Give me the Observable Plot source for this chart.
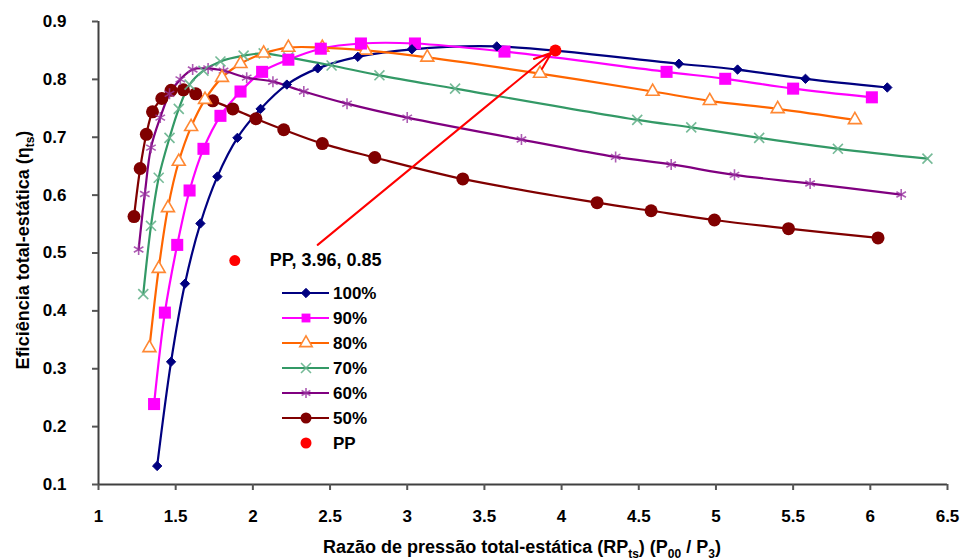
<!DOCTYPE html>
<html><head><meta charset="utf-8">
<script src="https://cdn.jsdelivr.net/npm/d3@7"></script>
<script src="https://cdn.jsdelivr.net/npm/@observablehq/plot@0.6"></script>
<style>
body{margin:0;background:#fff}
#chart{position:relative;width:969px;height:560px}
</style>
</head><body><div id="chart"></div>
<script>
// ---- data ----
const seriesNames = ["100%", "90%", "80%", "70%", "60%", "50%"];

const rp100  = [1.38, 1.47, 1.56, 1.66, 1.77, 1.90, 2.05, 2.22, 2.42, 2.68, 3.03, 3.58, 4.76, 5.14, 5.58, 6.11];
const eta100 = [0.132, 0.312, 0.447, 0.551, 0.632, 0.699, 0.749, 0.791, 0.819, 0.839, 0.852, 0.857, 0.827, 0.817, 0.801, 0.786];

const rp90  = [1.36, 1.43, 1.51, 1.59, 1.68, 1.79, 1.92, 2.06, 2.23, 2.44, 2.70, 3.05, 3.63, 4.68, 5.06, 5.50, 6.01];
const eta90 = [0.239, 0.397, 0.514, 0.608, 0.680, 0.737, 0.779, 0.813, 0.834, 0.853, 0.862, 0.862, 0.848, 0.813, 0.801, 0.784, 0.769];

const rp80  = [1.33, 1.39, 1.45, 1.52, 1.60, 1.69, 1.80, 1.92, 2.07, 2.23, 2.45, 2.73, 3.13, 3.86, 4.59, 4.96, 5.40, 5.90];
const eta80 = [0.336, 0.473, 0.578, 0.658, 0.718, 0.765, 0.803, 0.827, 0.845, 0.855, 0.855, 0.850, 0.838, 0.810, 0.779, 0.763, 0.749, 0.730];

const rp70  = [1.29, 1.34, 1.39, 1.46, 1.52, 1.59, 1.68, 1.79, 1.94, 2.07, 2.23, 2.51, 2.82, 3.31, 4.49, 4.84, 5.28, 5.79, 6.37];
const eta70 = [0.429, 0.547, 0.630, 0.699, 0.749, 0.791, 0.815, 0.831, 0.841, 0.845, 0.838, 0.824, 0.807, 0.784, 0.730, 0.717, 0.699, 0.680, 0.663];

const rp60  = [1.26, 1.30, 1.34, 1.40, 1.46, 1.53, 1.61, 1.71, 1.81, 1.96, 2.13, 2.33, 2.61, 3.00, 3.74, 4.35, 4.71, 5.12, 5.61, 6.20];
const eta60 = [0.506, 0.602, 0.682, 0.734, 0.775, 0.800, 0.817, 0.819, 0.815, 0.803, 0.796, 0.779, 0.758, 0.734, 0.696, 0.666, 0.653, 0.635, 0.620, 0.601];

const rp50  = [1.23, 1.27, 1.31, 1.35, 1.41, 1.47, 1.55, 1.63, 1.74, 1.87, 2.02, 2.20, 2.45, 2.79, 3.36, 4.23, 4.58, 4.99, 5.47, 6.05];
const eta50 = [0.563, 0.646, 0.705, 0.744, 0.767, 0.781, 0.782, 0.775, 0.763, 0.749, 0.732, 0.713, 0.689, 0.665, 0.628, 0.587, 0.573, 0.557, 0.542, 0.526];

const ppPoint = {rp: 3.96, eta: 0.85};
const ppLabel = "PP, 3.96, 0.85";
const arrowStart = {rp: 2.42, eta: 0.514};
const arrowEnd = {rp: 3.935, eta: 0.846};
const labelKeyPos = {rp: 1.883, eta: 0.487};
const labelTextPos = {rp: 2.11, eta: 0.487};

const xTicks = [1, 1.5, 2, 2.5, 3, 3.5, 4, 4.5, 5, 5.5, 6, 6.5];
const yTicks = [0.1, 0.2, 0.3, 0.4, 0.5, 0.6, 0.7, 0.8, 0.9];

// ---- styles ----
const styles = [
  {line: "#000080", symbol: "diamond2", r: 4.2, fill: "#000080", stroke: "#000080", sw: 1, so: 1},
  {line: "#FF00FF", symbol: "square", r: 6.8, fill: "#FF00FF", stroke: "#FF00FF", sw: 0, so: 1},
  {line: "#FF6600", symbol: "triangle", r: 4.8, fill: "#ffffff", stroke: "#FF8833", sw: 1.6, so: 1},
  {line: "#339966", symbol: "times", r: 4.6, fill: "none", stroke: "#66b38c", sw: 1.6, so: 0.9},
  {line: "#800080", symbol: "asterisk", r: 5.2, fill: "none", stroke: "#9933a0", sw: 1.6, so: 0.8},
  {line: "#800000", symbol: "circle", r: 6.5, fill: "#800000", stroke: "#800000", sw: 0, so: 1}
];
const xs = [rp100, rp90, rp80, rp70, rp60, rp50];
const ys = [eta100, eta90, eta80, eta70, eta60, eta50];
const tables = seriesNames.map((name, i) => xs[i].map((x, j) => ({name, rp: x, eta: ys[i][j]})));

const FONT = "'Liberation Sans', Arial, Helvetica, sans-serif";

const marks = [];
tables.forEach((t, i) => {
  const s = styles[i];
  marks.push(Plot.line(t, {x: "rp", y: "eta", curve: "catmull-rom", stroke: s.line, strokeWidth: 2.2}));
});
[5,4,3,2,1,0].forEach(i => {
  const s = styles[i];
  marks.push(Plot.dot(tables[i], {x: "rp", y: "eta", symbol: () => s.symbol, r: s.r,
    fill: s.fill, stroke: s.stroke, strokeWidth: s.sw, strokeOpacity: s.so}));
});
marks.push(
  Plot.ruleX([1], {stroke: "#404040", strokeWidth: 2}),
  Plot.ruleY([0.1], {stroke: "#404040", strokeWidth: 2}),
  Plot.arrow([{}], {x1: () => arrowStart.rp, y1: () => arrowStart.eta, x2: () => arrowEnd.rp, y2: () => arrowEnd.eta,
    stroke: "#FF0000", strokeWidth: 2, headLength: 14, headAngle: 40}),
  Plot.dot([ppPoint], {x: "rp", y: "eta", r: 6, fill: "#FF0000"}),
  Plot.dot([labelKeyPos], {x: "rp", y: "eta", r: 5.5, fill: "#FF0000"}),
  Plot.text([labelTextPos], {x: "rp", y: "eta", text: () => ppLabel, fontSize: 18, fontWeight: "bold", fill: "#000", textAnchor: "start"}),
  Plot.axisX({ticks: xTicks, tickSize: 6, tickPadding: 19, stroke: "#555", strokeWidth: 2, fontSize: 17, fontWeight: "bold", label: null, tickFormat: d => String(d)}),
  Plot.axisY({ticks: yTicks, tickSize: 6, tickPadding: 26, stroke: "#555", strokeWidth: 2, fontSize: 17, fontWeight: "bold", label: null, tickFormat: d3.format(".1f")})
);

const plot = Plot.plot({
  width: 969, height: 560,
  marginTop: 21, marginRight: 22, marginBottom: 76, marginLeft: 98,
  x: {domain: [1, 6.5]},
  y: {domain: [0.1, 0.9]},
  style: {fontFamily: FONT, fontSize: "17px", fontWeight: "bold", color: "#000", background: "#fff"},
  marks
});
document.getElementById("chart").appendChild(plot);

// ---- axis titles with subscripts ----
const svg = d3.select(plot);
const yt = svg.append("text")
  .attr("transform", "translate(24,250) rotate(-90)")
  .attr("text-anchor", "middle").attr("dominant-baseline", "middle")
  .attr("font-size", 18).attr("font-weight", "bold").attr("fill", "#000");
yt.append("tspan").text("Eficiência total-estática (η");
yt.append("tspan").attr("font-size", 12).attr("baseline-shift", "sub").text("ts");
yt.append("tspan").text(")");

const xt = svg.append("text")
  .attr("transform", "translate(522,548)")
  .attr("text-anchor", "middle").attr("dominant-baseline", "middle")
  .attr("font-size", 18).attr("font-weight", "bold").attr("fill", "#000");
xt.append("tspan").text("Razão de pressão total-estática (RP");
xt.append("tspan").attr("font-size", 12).attr("baseline-shift", "sub").text("ts");
xt.append("tspan").text(") (P");
xt.append("tspan").attr("font-size", 12).attr("baseline-shift", "sub").text("00");
xt.append("tspan").text(" / P");
xt.append("tspan").attr("font-size", 12).attr("baseline-shift", "sub").text("3");
xt.append("tspan").text(")");

// ---- legend ----
const leg = svg.append("g").attr("font-size", 17).attr("font-weight", "bold").attr("text-anchor", "start");
const legItems = seriesNames.map((n, i) => ({label: n, style: styles[i]}));
const symMap = {diamond2: d3.symbolDiamond2, square: d3.symbolSquare, triangle: d3.symbolTriangle,
  times: d3.symbolTimes, asterisk: d3.symbolAsterisk, circle: d3.symbolCircle};
const legendSizes = [4.2, 5, 4.6, 4.6, 4.8, 5.5];
legItems.forEach((it, i) => {
  const y = 293 + i * 25;
  const s = it.style;
  const g = leg.append("g").attr("transform", `translate(0,${y})`);
  g.append("line").attr("x1", 282).attr("x2", 329).attr("y1", 0).attr("y2", 0).attr("stroke", s.line).attr("stroke-width", 2.2);
  g.append("path").attr("transform", "translate(306,0)")
    .attr("d", d3.symbol(symMap[s.symbol], Math.PI * legendSizes[i] ** 2)())
    .attr("fill", s.fill).attr("stroke", s.stroke).attr("stroke-width", s.sw).attr("stroke-opacity", s.so);
  g.append("text").attr("x", 333).attr("y", 0).attr("dy", "0.36em").attr("text-anchor", "start").text(it.label);
});
const gpp = leg.append("g").attr("transform", `translate(0,${293 + 6 * 25})`);
gpp.append("circle").attr("cx", 306).attr("cy", 0).attr("r", 5.5).attr("fill", "#FF0000");
gpp.append("text").attr("x", 333).attr("y", 0).attr("dy", "0.36em").attr("text-anchor", "start").text("PP");
</script>
</body></html>
